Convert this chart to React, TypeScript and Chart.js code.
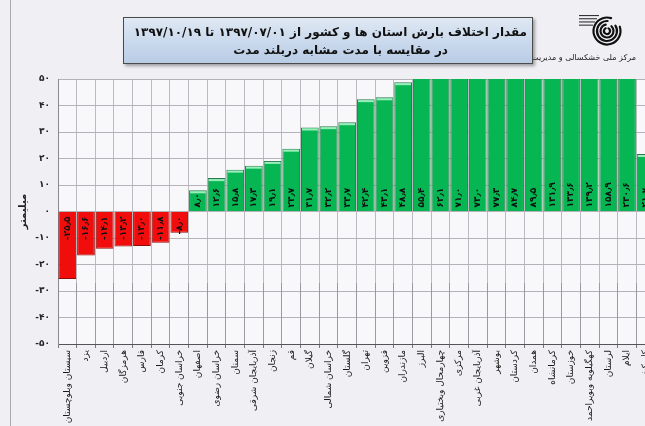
import React, { useEffect, useRef } from "react";
import { Chart, registerables } from "chart.js";

Chart.register(...registerables);

// Provinces, ordered by precipitation anomaly (mm)
const provinces = [
  "سیستان وبلوچستان",
  "یزد",
  "اردبیل",
  "هرمزگان",
  "فارس",
  "کرمان",
  "خراسان جنوبی",
  "اصفهان",
  "خراسان رضوی",
  "سمنان",
  "آذربایجان شرقی",
  "زنجان",
  "قم",
  "گیلان",
  "خراسان شمالی",
  "گلستان",
  "تهران",
  "قزوین",
  "مازندران",
  "البرز",
  "چهارمحال وبختیاری",
  "مرکزی",
  "آذربایجان غربی",
  "بوشهر",
  "کردستان",
  "همدان",
  "کرمانشاه",
  "خوزستان",
  "کهگیلویه وبویراحمد",
  "لرستان",
  "ایلام",
  "کل کشور",
];

const anomaly = [
  -25.5, -16.6, -14.1, -13.2, -13.0, -11.8, -8.0, 8.0, 12.6, 15.8, 17.3, 19.1,
  23.7, 31.7, 32.2, 33.7, 42.4, 43.1, 48.8, 55.4, 62.1, 71.0, 73.0, 77.3, 84.7,
  89.5, 131.9, 133.6, 139.2, 158.9, 230.6, 21.7,
];

const yMin = -50;
const yMax = 50;
const yStep = 10;

const titleLine1 = "مقدار اختلاف بارش استان ها و کشور از  ۱۳۹۷/۰۷/۰۱ تا ۱۳۹۷/۱۰/۱۹";
const titleLine2 = "در مقایسه با مدت مشابه دربلند مدت";
const yTitle = "میلیمتر";
const orgName = "مرکز ملی خشکسالی و مدیریت بحران";

const FA_DIGITS = "۰۱۲۳۴۵۶۷۸۹";
function toFa(s: string): string {
  return s.replace(/[0-9]/g, (d) => FA_DIGITS[Number(d)]).replace(".", "٫");
}

const FONT = "'DejaVu Sans', sans-serif";

// page background, plot background and the frame line
const backdropPlugin = {
  id: "backdrop",
  beforeDraw(chart: any) {
    const { ctx, chartArea, width, height } = chart;
    ctx.save();
    ctx.fillStyle = "#f0f0f4";
    ctx.fillRect(0, 0, width, height);
    ctx.fillStyle = "#f8f8fa";
    ctx.fillRect(chartArea.left, chartArea.top, chartArea.right - chartArea.left, chartArea.bottom - chartArea.top);
    ctx.strokeStyle = "#a8a8ae";
    ctx.lineWidth = 1;
    ctx.beginPath();
    ctx.moveTo(10.5, 0);
    ctx.lineTo(10.5, height);
    ctx.stroke();
    ctx.restore();
  },
  // the lower band of the plot carries darker column rules
  beforeDatasetsDraw(chart: any) {
    const { ctx, chartArea } = chart;
    const x = chart.scales.x;
    const yTop = chart.scales.y.getPixelForValue(-27);
    ctx.save();
    ctx.strokeStyle = "#9a9aa0";
    ctx.lineWidth = 1;
    ctx.beginPath();
    for (let i = 0; i <= provinces.length; i++) {
      const raw = x.getPixelForValue(i - 0.5);
      const px = Math.round(raw - 0.5) + 0.5;
      if (px > chartArea.left + 1 && px < chartArea.right) {
        ctx.moveTo(px, yTop);
        ctx.lineTo(px, chartArea.bottom);
      }
    }
    ctx.stroke();
    ctx.restore();
  },
};

// light rim on bar tops and rotated value labels next to the zero line
const barLabelPlugin = {
  id: "barLabels",
  afterDatasetsDraw(chart: any) {
    const { ctx, chartArea } = chart;
    const meta = chart.getDatasetMeta(0);
    const zeroY = chart.scales.y.getPixelForValue(0);
    ctx.save();
    ctx.beginPath();
    ctx.rect(chartArea.left, chartArea.top, chartArea.right - chartArea.left, chartArea.bottom - chartArea.top);
    ctx.clip();
    meta.data.forEach((bar: any, i: number) => {
      const v = anomaly[i];
      const half = bar.width / 2;
      if (v > 0 && bar.y > chartArea.top + 1) {
        ctx.fillStyle = "rgba(170, 245, 200, 0.9)";
        ctx.fillRect(bar.x - half + 1, bar.y + 1, bar.width - 2, 2);
      }
      ctx.save();
      ctx.fillStyle = "#111";
      ctx.font = `bold 9px ${FONT}`;
      ctx.textBaseline = "middle";
      if (v >= 0) {
        ctx.translate(bar.x, zeroY - 4);
        ctx.rotate(-Math.PI / 2);
        ctx.textAlign = "left";
      } else {
        ctx.translate(bar.x, zeroY + 5);
        ctx.rotate(-Math.PI / 2);
        ctx.textAlign = "right";
      }
      ctx.fillText(toFa(v.toFixed(1)), 0, 0);
      ctx.restore();
    });
    ctx.restore();
  },
};

// emblem: concentric open rings with a caption under it
const emblemPlugin = {
  id: "emblem",
  afterDraw(chart: any) {
    const { ctx } = chart;
    const cx = 607;
    const cy = 31;
    ctx.save();
    ctx.strokeStyle = "#111";
    ctx.lineCap = "round";
    const rings = [3, 6.5, 10, 13.5];
    rings.forEach((r, k) => {
      ctx.lineWidth = 2.2;
      ctx.beginPath();
      const a0 = -Math.PI / 2 + 0.5 + k * 0.25;
      ctx.arc(cx, cy, r, a0, a0 + Math.PI * 1.7);
      ctx.stroke();
    });
    ctx.fillStyle = "#333";
    [0, 1, 2, 3].forEach((k) => {
      const w = 20 - k * 2;
      ctx.fillRect(cx - 28, 15 + k * 3.2, w, 1.1);
    });
    ctx.font = `8px ${FONT}`;
    ctx.direction = "rtl";
    ctx.textAlign = "right";
    ctx.textBaseline = "middle";
    ctx.fillStyle = "#222";
    ctx.fillText(orgName, 636, 58);
    ctx.restore();
  },
};

export default function App() {
  const canvasRef = useRef<HTMLCanvasElement | null>(null);

  useEffect(() => {
    if (!canvasRef.current) return;
    const chart = new Chart(canvasRef.current, {
      type: "bar",
      data: {
        labels: provinces,
        datasets: [
          {
            data: anomaly,
            backgroundColor: anomaly.map((v) => (v < 0 ? "#f20d0d" : "#06b653")),
            borderColor: anomaly.map((v) => (v < 0 ? "#8e0b0b" : "#2b7a4b")),
            borderWidth: 1,
            barPercentage: 0.95,
            categoryPercentage: 1,
          },
        ],
      },
      options: {
        responsive: false,
        animation: false,
        layout: { padding: { left: 0, top: 79, right: 13, bottom: 0 } },
        plugins: {
          legend: { display: false },
          tooltip: { enabled: false },
        },
        scales: {
          x: {
            grid: {
              color: "#bcbcc0",
              lineWidth: 1,
              drawTicks: true,
              tickLength: 4,
              tickColor: "#777",
            },
            border: { color: "#555", width: 1 },
            ticks: {
              autoSkip: false,
              minRotation: 90,
              maxRotation: 90,
              padding: 2,
              color: "#1a1a1a",
              font: { family: FONT, size: 9 },
            },
            afterFit: (s: any) => {
              s.height = 82;
            },
          },
          y: {
            min: yMin,
            max: yMax,
            grid: { color: "#b4b4b8", lineWidth: 1, drawTicks: false },
            border: { color: "#8a8a8e", width: 1 },
            ticks: {
              stepSize: yStep,
              padding: 8,
              color: "#222",
              font: { family: FONT, size: 9, weight: "bold" },
              callback: (val: any) => toFa(String(val)),
            },
            title: {
              display: true,
              text: yTitle,
              color: "#222",
              font: { family: FONT, size: 10, weight: "bold" },
              padding: { top: 17, bottom: 0 },
            },
            afterFit: (s: any) => {
              s.width = 58;
            },
          },
        },
      },
      plugins: [backdropPlugin, barLabelPlugin, emblemPlugin],
    });
    return () => chart.destroy();
  }, []);

  return (
    <div
      style={{
        position: "fixed",
        left: 0,
        top: 0,
        width: 645,
        height: 426,
        overflow: "hidden",
        background: "#f0f0f4",
      }}
    >
      <canvas ref={canvasRef} width={668} height={426} style={{ position: "absolute", left: 0, top: 0 }} />
      <div
        dir="rtl"
        style={{
          position: "absolute",
          left: 123,
          top: 17,
          width: 410,
          height: 47,
          border: "1px solid #4a4a4a",
          background: "linear-gradient(#dfe8f4, #b8cce5)",
          boxShadow: "2px 2px 3px rgba(0,0,0,0.35)",
          fontFamily: FONT,
          fontWeight: "bold",
          fontSize: 12,
          color: "#111",
          lineHeight: "18px",
          paddingTop: 5,
          boxSizing: "border-box",
        }}
      >
        <div style={{ paddingRight: 5, whiteSpace: "nowrap" }}>{titleLine1}</div>
        <div style={{ paddingRight: 84, whiteSpace: "nowrap" }}>{titleLine2}</div>
      </div>
    </div>
  );
}
